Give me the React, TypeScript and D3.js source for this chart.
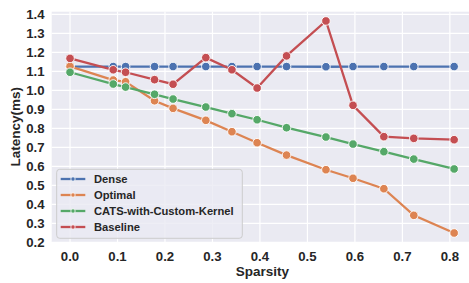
import React from "react";
import * as d3 from "d3";

// sparsity values (x) shared by every series
const sparsity = [0, 0.091, 0.117, 0.178, 0.217, 0.286, 0.341, 0.394, 0.456, 0.539, 0.596, 0.661, 0.724, 0.809];

const dense = [1.125, 1.125, 1.125, 1.125, 1.125, 1.125, 1.125, 1.125, 1.125, 1.124, 1.125, 1.125, 1.125, 1.125];
const optimal = [1.126, 1.054, 1.045, 0.945, 0.905, 0.842, 0.782, 0.724, 0.659, 0.582, 0.537, 0.482, 0.342, 0.249];
const cats = [1.095, 1.033, 1.017, 0.979, 0.954, 0.912, 0.877, 0.845, 0.803, 0.754, 0.717, 0.677, 0.638, 0.586];
const baseline = [1.168, 1.108, 1.095, 1.056, 1.032, 1.172, 1.108, 1.012, 1.181, 1.365, 0.921, 0.756, 0.747, 0.74];

const seriesNames = ["Dense", "Optimal", "CATS-with-Custom-Kernel", "Baseline"];
const seriesValues = [dense, optimal, cats, baseline];
const colors = ["#4c72b0", "#dd8452", "#55a868", "#c44e52"];

const xTicks = [0, 0.1, 0.2, 0.3, 0.4, 0.5, 0.6, 0.7, 0.8];
const yTicks = [0.2, 0.3, 0.4, 0.5, 0.6, 0.7, 0.8, 0.9, 1.0, 1.1, 1.2, 1.3, 1.4];

const W = 469;
const H = 283;
const margin = { top: 11.7, right: 0, bottom: 41, left: 51.7 };
const font = "'Liberation Sans', Arial, sans-serif";

const App = () => {
  const x = d3.scaleLinear().domain([-0.0386, 0.8403]).range([margin.left, W - margin.right]);
  const y = d3.scaleLinear().domain([0.2016, 1.4137]).range([H - margin.bottom, margin.top]);

  const line = d3
    .line<[number, number]>()
    .x((d) => x(d[0]))
    .y((d) => y(d[1]));

  const plotW = W - margin.left - margin.right;
  const plotH = H - margin.top - margin.bottom;

  const legend = { x: 56.7, y: 169.3, w: 185.6, h: 69, row: 16 };

  return (
    <svg
      width={W}
      height={H}
      style={{ position: "absolute", left: 0, top: 0, background: "#fff" }}
      fontFamily={font}
    >
      <rect x={margin.left} y={margin.top} width={plotW} height={plotH} fill="#eaeaf2" />
      {/* grid */}
      {xTicks.map((t) => (
        <line key={"gx" + t} x1={x(t)} x2={x(t)} y1={margin.top} y2={H - margin.bottom} stroke="#fff" strokeWidth={1.2} />
      ))}
      {yTicks.map((t) => (
        <line key={"gy" + t} x1={margin.left} x2={W - margin.right} y1={y(t)} y2={y(t)} stroke="#fff" strokeWidth={1.2} />
      ))}
      {/* tick labels */}
      {xTicks.map((t) => (
        <text key={"tx" + t} x={x(t)} y={260.5} textAnchor="middle" fontSize={13.2} fontWeight="bold" fill="#262626">
          {t.toFixed(1)}
        </text>
      ))}
      {yTicks.map((t) => (
        <text key={"ty" + t} x={44.5} y={y(t) + 4.7} textAnchor="end" fontSize={13.2} fontWeight="bold" fill="#262626">
          {t.toFixed(1)}
        </text>
      ))}
      <text x={x(0.405)} y={276} textAnchor="middle" fontSize={13.5} fontWeight="bold" fill="#262626">
        Sparsity
      </text>
      <text
        transform={`translate(19.5,${margin.top + plotH / 2}) rotate(-90)`}
        textAnchor="middle"
        fontSize={13.5}
        fontWeight="bold"
        fill="#262626"
      >
        Latency(ms)
      </text>
      {/* series */}
      {seriesValues.map((vals, i) => {
        const pts = vals.map((v, j) => [sparsity[j], v] as [number, number]);
        return (
          <g key={seriesNames[i]}>
            <path d={line(pts) || ""} fill="none" stroke={colors[i]} strokeWidth={2.3} />
            {pts.map((p, j) => (
              <circle key={j} cx={x(p[0])} cy={y(p[1])} r={4.3} fill={colors[i]} stroke="#fff" strokeWidth={0.9} />
            ))}
          </g>
        );
      })}
      {/* legend */}
      <rect
        x={legend.x}
        y={legend.y}
        width={legend.w}
        height={legend.h}
        rx={3}
        fill="#eaeaf2"
        fillOpacity={0.8}
        stroke="#cccccc"
        strokeWidth={1}
      />
      {seriesNames.map((name, i) => {
        const cy = 179 + i * legend.row;
        return (
          <g key={"lg" + name}>
            <line x1={60.7} x2={85.3} y1={cy} y2={cy} stroke={colors[i]} strokeWidth={2.3} />
            <circle cx={73} cy={cy} r={2.2} fill={colors[i]} stroke="#fff" strokeWidth={0.8} />
            <text x={94} y={cy + 4} fontSize={11.2} fontWeight="bold" fill="#262626">
              {name}
            </text>
          </g>
        );
      })}
    </svg>
  );
};

export default App;
